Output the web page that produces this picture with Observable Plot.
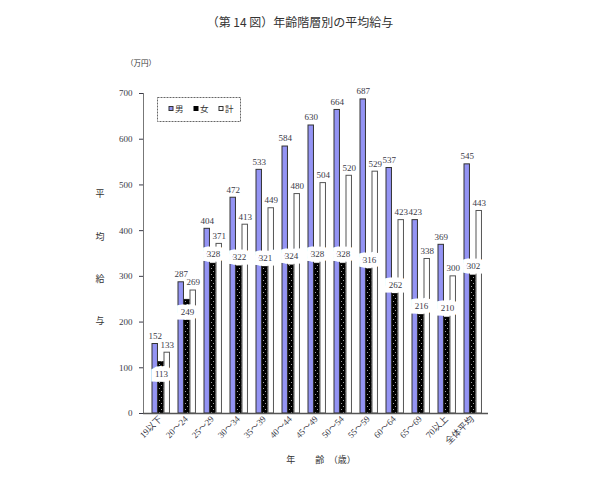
<!DOCTYPE html>
<html>
<head>
<meta charset="utf-8">
<script src="https://cdn.jsdelivr.net/npm/d3@7"></script>
<script src="https://cdn.jsdelivr.net/npm/@observablehq/plot@0.6"></script>
<style>
  html, body { margin: 0; padding: 0; background: #fff; }
  #chart { width: 600px; height: 500px; }
</style>
</head>
<body>
<div id="chart"></div>
<script>
const categories = ["19以下","20～24","25～29","30～34","35～39","40～44","45～49","50～54","55～59","60～64","65～69","70以上","全体平均"];
const male   = [152,287,404,472,533,584,630,664,687,537,423,369,545];
const female = [113,249,328,322,321,324,328,328,316,262,216,210,302];
const total  = [133,269,371,413,449,480,504,520,529,423,338,300,443];
const yTicks = [0,100,200,300,400,500,600,700];
const labelsBelow = ["19以下","20～24"];

const data = categories.map((c, i) => ({cat: c, male: male[i], female: female[i], total: total[i]}));

const W = 600, H = 500;
const mL = 143, mR = 112, mT = 93, mB = 87;
const bw = (W - mL - mR) / categories.length;
const barW = 6, off = 5;
const serif = "'Liberation Serif','DejaVu Serif','Noto Sans CJK JP',serif";
const txt = "#3a3a48";

const chart = Plot.plot({
  width: W, height: H,
  marginLeft: mL, marginRight: mR, marginTop: mT, marginBottom: mB,
  style: {fontFamily: serif, fontSize: "9px", color: txt, background: "#fff"},
  x: {domain: categories, padding: 0, label: null, tickRotate: -45, tickSize: 0, tickPadding: 4},
  y: {domain: [0, 700], ticks: yTicks, label: null, tickSize: 4, tickPadding: 7},
  marks: [
    Plot.frame({anchor: "left", stroke: "#777", strokeDasharray: "2,1"}),
    Plot.barY(data, {x: "cat", y: "male", fill: "#9494F4", stroke: "#333", strokeWidth: 1,
      insetLeft: off, insetRight: bw - off - barW}),
    Plot.barY(data, {x: "cat", y: "female", fill: "url(#dots)", stroke: "#111", strokeWidth: 0.5,
      insetLeft: off + barW, insetRight: bw - off - 2 * barW}),
    Plot.barY(data, {x: "cat", y: "total", fill: "#fff", stroke: "#555", strokeWidth: 1,
      insetLeft: off + 2 * barW, insetRight: bw - off - 3 * barW}),
    Plot.ruleY([0], {stroke: "#555", strokeWidth: 1.5}),
    Plot.text(data, {x: "cat", y: "male", text: "male", dx: -(bw / 2 - off - barW / 2), dy: -8, fill: txt}),
    Plot.text(data, {x: "cat", y: "total", text: "total", dx: off + 2.5 * barW - bw / 2, dy: -8, fill: txt}),
    Plot.text(data.filter(d => !labelsBelow.includes(d.cat)), {x: "cat", y: "female", text: "female",
      dx: 1, dy: -9, fill: txt, stroke: "#fff", strokeWidth: 9, strokeLinejoin: "miter"}),
    Plot.text(data.filter(d => labelsBelow.includes(d.cat)), {x: "cat", y: "female", text: "female",
      dx: 1, dy: 12, fill: txt, stroke: "#fff", strokeWidth: 9, strokeLinejoin: "miter"})
  ]
});

const svg = d3.select(chart);
const defs = svg.insert("defs", ":first-child");
const pat = defs.append("pattern").attr("id", "dots").attr("patternUnits", "userSpaceOnUse")
  .attr("width", 4).attr("height", 6);
pat.append("rect").attr("width", 4).attr("height", 6).attr("fill", "#000");
pat.append("rect").attr("x", 1).attr("y", 1).attr("width", 0.8).attr("height", 0.8).attr("fill", "#fff");
pat.append("rect").attr("x", 3).attr("y", 4).attr("width", 0.8).attr("height", 0.8).attr("fill", "#fff");

const cjk = "'Noto Sans CJK JP','Liberation Serif',serif";
svg.append("text").attr("x", 300).attr("y", 27).attr("text-anchor", "middle")
  .attr("font-family", cjk).attr("font-size", 12).attr("fill", "#333")
  .text("（第 14 図）年齢階層別の平均給与");
svg.append("text").attr("x", 141).attr("y", 66).attr("text-anchor", "middle")
  .attr("font-family", cjk).attr("font-size", 7.5).attr("fill", "#333").text("（万円）");
const ylab = ["平","均","給","与"];
const ys = [194, 237, 279, 321];
ylab.forEach((c, i) => svg.append("text").attr("x", 100).attr("y", ys[i] + 3).attr("text-anchor", "middle")
  .attr("font-family", cjk).attr("font-size", 9).attr("fill", "#333").text(c));
svg.append("text").attr("x", 321).attr("y", 463).attr("text-anchor", "middle")
  .attr("font-family", cjk).attr("font-size", 9).attr("fill", "#333").attr("xml:space", "preserve")
  .text("年　　 齢　（歳）");

// legend
const lg = svg.append("g");
lg.append("rect").attr("x", 157.5).attr("y", 97.5).attr("width", 83).attr("height", 24)
  .attr("fill", "#fff").attr("stroke", "#666").attr("stroke-dasharray", "2,1");
const items = [["男", "#9494F4", "#333"], ["女", "#000", "#000"], ["計", "#fff", "#333"]];
items.forEach(([t, f, s], i) => {
  const x0 = 169 + i * 25;
  lg.append("rect").attr("x", x0).attr("y", 106.5).attr("width", 4).attr("height", 4)
    .attr("fill", f).attr("stroke", s).attr("stroke-width", 1);
  lg.append("text").attr("x", x0 + 6).attr("y", 112).attr("text-anchor", "start")
    .attr("font-family", cjk).attr("font-size", 8.5).attr("fill", "#333").text(t);
});

document.getElementById("chart").appendChild(chart);
</script>
</body>
</html>
